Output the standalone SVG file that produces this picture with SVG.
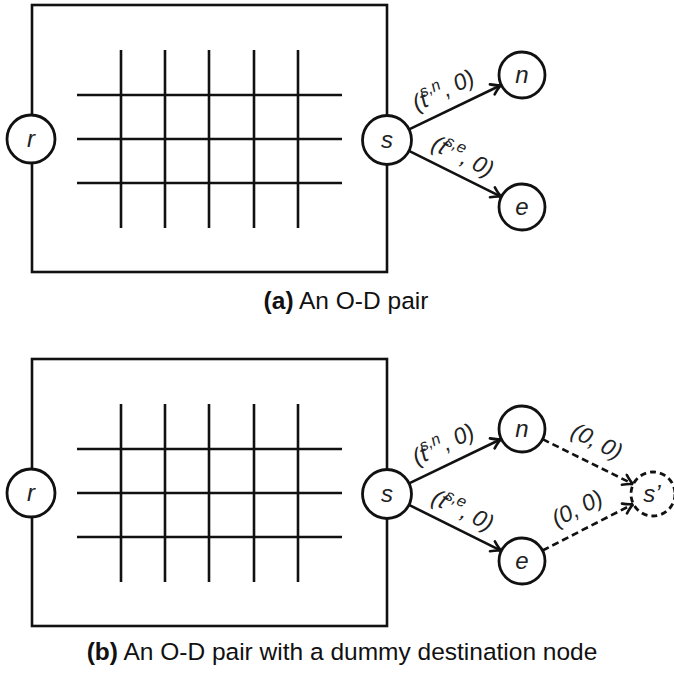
<svg xmlns="http://www.w3.org/2000/svg" width="674" height="673" viewBox="0 0 674 673">
  <style>
    .frame { fill: none; stroke: #111; stroke-width: 2.6; }
    .grid line { stroke: #111; stroke-width: 2.6; }
    .node circle { fill: #fff; stroke: #111; stroke-width: 2.8; }
    .node.dummy circle { stroke-dasharray: 6 4; }
    .nl { font-family: "Liberation Sans", Arial, sans-serif; font-style: italic; font-size: 24px; fill: #222; text-anchor: middle; }
    .edge { stroke: #111; stroke-width: 2.6; fill: none; marker-end: url(#arrow); }
    .edge.dashed { stroke-dasharray: 7 4; }
    .el { font-family: "Liberation Sans", Arial, sans-serif; font-style: italic; font-size: 23px; fill: #222; text-anchor: middle; }
    .sup { font-size: 16px; }
    .cap { font-family: "Liberation Sans", Arial, sans-serif; font-size: 24.5px; fill: #111; text-anchor: middle; }
    .cap .b { font-weight: bold; }
  </style>
  <defs>
    <marker id="arrow" viewBox="-12 -7 14 14" markerWidth="14" markerHeight="14" refX="0" refY="0" orient="auto" markerUnits="userSpaceOnUse">
      <path d="M-10,-5.5 Q-4,-1.2 0,0 Q-4,1.2 -10,5.5" fill="none" stroke="#111" stroke-width="2.6" stroke-linecap="round" stroke-linejoin="round"/>
    </marker>
  </defs>

  <!-- Panel (a) -->
  <g id="panel-a">
    <rect class="frame" x="32" y="5" width="355" height="267"/>
    <g class="grid">
      <line x1="121" y1="50" x2="121" y2="228"/>
      <line x1="165" y1="50" x2="165" y2="228"/>
      <line x1="209" y1="50" x2="209" y2="228"/>
      <line x1="254" y1="50" x2="254" y2="228"/>
      <line x1="298" y1="50" x2="298" y2="228"/>
      <line x1="77" y1="95" x2="342" y2="95"/>
      <line x1="77" y1="139" x2="342" y2="139"/>
      <line x1="77" y1="183" x2="342" y2="183"/>
    </g>
    <g id="a-connectors">
      <line class="edge" x1="409.1" y1="129.4" x2="501.3" y2="85"/>
      <line class="edge" x1="409" y1="150.9" x2="501.4" y2="196.8"/>
      <text class="el" transform="translate(443,90) rotate(-26)" x="0" y="8">(t<tspan class="sup" dx="-3" dy="-10">s,n</tspan><tspan dy="10">, 0)</tspan></text>
      <text class="el" transform="translate(463,156) rotate(26)" x="0" y="8">(t<tspan class="sup" dx="-3" dy="-10">s,e</tspan><tspan dy="10">, 0)</tspan></text>
    </g>
    <g id="a-r" class="node"><circle cx="31" cy="139" r="24"/><text class="nl" x="31" y="147">r</text></g>
    <g id="a-s" class="node"><circle cx="387" cy="140" r="24.5"/><text class="nl" x="387" y="148">s</text></g>
    <g id="a-n" class="node"><circle cx="522" cy="75" r="23"/><text class="nl" x="522" y="83">n</text></g>
    <g id="a-e" class="node"><circle cx="522" cy="207" r="23"/><text class="nl" x="522" y="215">e</text></g>
    <text class="cap" x="346" y="309"><tspan class="b">(a)</tspan> An O-D pair</text>
  </g>

  <!-- Panel (b) -->
  <g id="panel-b">
    <rect class="frame" x="32" y="359" width="355" height="267"/>
    <g class="grid">
      <line x1="121" y1="404" x2="121" y2="582"/>
      <line x1="165" y1="404" x2="165" y2="582"/>
      <line x1="209" y1="404" x2="209" y2="582"/>
      <line x1="254" y1="404" x2="254" y2="582"/>
      <line x1="298" y1="404" x2="298" y2="582"/>
      <line x1="77" y1="449" x2="342" y2="449"/>
      <line x1="77" y1="493" x2="342" y2="493"/>
      <line x1="77" y1="537" x2="342" y2="537"/>
    </g>
    <g id="b-connectors">
      <line class="edge" x1="409.1" y1="483.4" x2="501.3" y2="439"/>
      <line class="edge" x1="409" y1="504.9" x2="501.4" y2="550.8"/>
      <line class="edge dashed" x1="542.6" y1="439.2" x2="633.3" y2="484.2"/>
      <line class="edge dashed" x1="542.5" y1="550.5" x2="633.4" y2="504"/>
      <text class="el" transform="translate(443,444) rotate(-26)" x="0" y="8">(t<tspan class="sup" dx="-3" dy="-10">s,n</tspan><tspan dy="10">, 0)</tspan></text>
      <text class="el" transform="translate(463,510) rotate(26)" x="0" y="8">(t<tspan class="sup" dx="-3" dy="-10">s,e</tspan><tspan dy="10">, 0)</tspan></text>
      <text class="el" transform="translate(597,441) rotate(27)" x="0" y="8">(0, 0)</text>
      <text class="el" transform="translate(577,508) rotate(-27)" x="0" y="8">(0, 0)</text>
    </g>
    <g id="b-r" class="node"><circle cx="31" cy="493" r="24"/><text class="nl" x="31" y="501">r</text></g>
    <g id="b-s" class="node"><circle cx="387" cy="494" r="24.5"/><text class="nl" x="387" y="502">s</text></g>
    <g id="b-n" class="node"><circle cx="522" cy="429" r="23"/><text class="nl" x="522" y="437">n</text></g>
    <g id="b-e" class="node"><circle cx="522" cy="561" r="23"/><text class="nl" x="522" y="569">e</text></g>
    <g id="b-s-prime" class="node dummy"><circle cx="653" cy="494" r="22"/><text class="nl" x="652" y="502">s’</text></g>
    <text class="cap" x="342" y="660"><tspan class="b">(b)</tspan> An O-D pair with a dummy destination node</text>
  </g>
</svg>
